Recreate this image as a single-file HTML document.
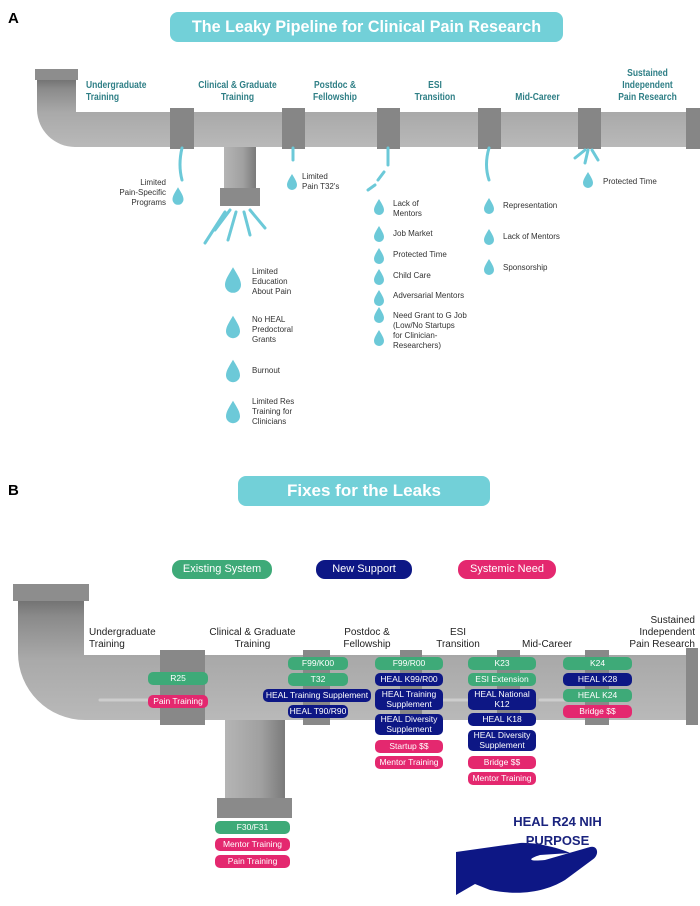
<!DOCTYPE html>
<html><head><meta charset="utf-8"><style>
body{margin:0;width:700px;height:906px;background:#fff;position:relative;overflow:hidden;font-family:"Liberation Sans",sans-serif}
.a{position:absolute}
.t{position:absolute;font-size:10px;line-height:12px;color:#2f7f86;text-align:center;font-weight:bold;transform:scaleX(0.85);}
.d{position:absolute;font-size:8px;line-height:10px;color:#333}
.p{position:absolute;height:13px;line-height:13px;border-radius:5px;color:#fff;font-size:8.5px;text-align:center;white-space:nowrap}
.p2{height:21px;line-height:10px;}
.g{background:#3eaa78}.n{background:#0d1785}.k{background:#e4286f}
.lb{position:absolute;font-size:10px;line-height:12px;color:#222;text-align:center}
</style></head><body>
<svg class="a" style="left:0;top:0" width="700" height="906">
<defs>
<linearGradient id="pg" x1="0" y1="0" x2="0" y2="1"><stop offset="0" stop-color="#6f6f6f"/><stop offset="0.15" stop-color="#8a8a8a"/><stop offset="0.5" stop-color="#a9a9a9"/><stop offset="1" stop-color="#b9b9b9"/></linearGradient>
<linearGradient id="vg" x1="0" y1="0" x2="1" y2="0"><stop offset="0" stop-color="#b5b5b5"/><stop offset="0.6" stop-color="#a0a0a0"/><stop offset="1" stop-color="#7a7a7a"/></linearGradient>
<path id="drop" d="M0,-8 C3,-3 5,0 5,3 A5,5 0 0 1 -5,3 C-5,0 -3,-3 0,-8Z" fill="#6cc9d8"/>
</defs>
<rect x="170" y="12" width="393" height="30" rx="8" fill="#72d0d8"/>
<path d="M37,78 L76,78 L76,112 L700,112 L700,147 L75,147 A38,38 0 0 1 37,110 Z" fill="url(#pg)"/>
<rect x="35" y="69" width="43" height="11" fill="#8d8d8d"/>
<g fill="#868686">
<rect x="170" y="108" width="24" height="41"/><rect x="282" y="108" width="23" height="41"/><rect x="377" y="108" width="23" height="41"/><rect x="478" y="108" width="23" height="41"/><rect x="578" y="108" width="23" height="41"/><rect x="686" y="108" width="14" height="41"/></g>
<rect x="224" y="147" width="32" height="50" fill="url(#vg)"/>
<rect x="220" y="188" width="40" height="18" fill="#8a8a8a"/>
<g stroke="#6cc9d8" stroke-width="3" fill="none" stroke-linecap="round">
<path d="M182,148 Q178,165 182,180"/><path d="M293,148 L293,160"/>
<path d="M388,148 L388,165"/><path d="M384,172 L378,180"/><path d="M375,185 L368,190"/>
<path d="M489,148 Q484,165 489,180"/>
<path d="M585,150 L575,158"/><path d="M588,150 L585,163"/><path d="M592,150 L598,160"/>
<path d="M230,210 L215,230"/><path d="M236,212 L228,240"/><path d="M244,212 L250,235"/><path d="M250,210 L265,228"/><path d="M225,212 L205,243"/>
</g>
<use href="#drop" transform="translate(178,196) scale(1.1)"/>
<use href="#drop" transform="translate(292,182)"/>
<use href="#drop" transform="translate(588,180)"/>
<use href="#drop" transform="translate(233,280) scale(1.6)"/>
<use href="#drop" transform="translate(233,327) scale(1.4)"/>
<use href="#drop" transform="translate(233,371) scale(1.4)"/>
<use href="#drop" transform="translate(233,412) scale(1.4)"/>
<use href="#drop" transform="translate(379,207)"/><use href="#drop" transform="translate(379,234)"/><use href="#drop" transform="translate(379,256)"/><use href="#drop" transform="translate(379,277)"/><use href="#drop" transform="translate(379,298)"/><use href="#drop" transform="translate(379,315)"/><use href="#drop" transform="translate(379,338)"/>
<use href="#drop" transform="translate(489,206)"/><use href="#drop" transform="translate(489,237)"/><use href="#drop" transform="translate(489,267)"/>
<rect x="238" y="476" width="252" height="30" rx="8" fill="#72d0d8"/>
<path d="M18,598 L84,598 L84,655 L695,655 L695,720 L85,720 A67,67 0 0 1 18,653 Z" fill="url(#pg)"/>
<rect x="13" y="584" width="76" height="17" fill="#8d8d8d"/>
<g fill="#888">
<rect x="160" y="650" width="45" height="75"/><rect x="303" y="650" width="27" height="75"/><rect x="400" y="650" width="22" height="75"/><rect x="497" y="650" width="23" height="75"/><rect x="585" y="650" width="24" height="75"/><rect x="686" y="648" width="12" height="77"/></g>
<rect x="225" y="720" width="60" height="82" fill="url(#vg)"/>
<rect x="217" y="798" width="75" height="20" fill="#8a8a8a"/>
<g stroke="#d8d8d8" stroke-width="3" stroke-linecap="round" opacity="0.7"><line x1="100" y1="700" x2="150" y2="700"/><line x1="440" y1="700" x2="480" y2="700"/><line x1="540" y1="700" x2="570" y2="700"/></g>
<path d="M456,852 L520,843 C535,842 560,848 570,853 L540,855 C530,858 525,862 545,860 L590,847 C598,845 600,855 592,860 L565,880 C545,892 520,896 490,890 L475,884 L456,895 Z" fill="#0d1785"/>
</svg>
<div class="a" style="left:8px;top:10px;font-weight:bold;font-size:15px">A</div>
<div class="a" style="left:170px;top:12px;width:393px;line-height:30px;text-align:center;color:#fff;font-weight:bold;font-size:17px;transform:scaleX(0.95)">The Leaky Pipeline for Clinical Pain Research</div>
<div class="t" style="left:80px;top:80px;width:80px;text-align:left">Undergraduate<br>Training</div>
<div class="t" style="left:180px;top:80px;width:115px">Clinical &amp; Graduate<br>Training</div>
<div class="t" style="left:300px;top:80px;width:70px">Postdoc &amp;<br>Fellowship</div>
<div class="t" style="left:400px;top:80px;width:70px">ESI<br>Transition</div>
<div class="t" style="left:500px;top:92px;width:75px">Mid-Career</div>
<div class="t" style="left:600px;top:68px;width:95px">Sustained<br>Independent<br>Pain Research</div>
<div class="d" style="left:96px;top:178px;width:70px;text-align:right">Limited<br>Pain-Specific<br>Programs</div>
<div class="d" style="left:302px;top:172px">Limited<br>Pain T32's</div>
<div class="d" style="left:603px;top:177px">Protected Time</div>
<div class="d" style="left:252px;top:267px">Limited<br>Education<br>About Pain</div>
<div class="d" style="left:252px;top:315px">No HEAL<br>Predoctoral<br>Grants</div>
<div class="d" style="left:252px;top:366px">Burnout</div>
<div class="d" style="left:252px;top:397px">Limited Res<br>Training for<br>Clinicians</div>
<div class="d" style="left:393px;top:199px">Lack of<br>Mentors</div>
<div class="d" style="left:393px;top:229px">Job Market</div>
<div class="d" style="left:393px;top:250px">Protected Time</div>
<div class="d" style="left:393px;top:271px">Child Care</div>
<div class="d" style="left:393px;top:291px">Adversarial Mentors</div>
<div class="d" style="left:393px;top:311px">Need Grant to G Job<br>(Low/No Startups<br>for Clinician-<br>Researchers)</div>
<div class="d" style="left:503px;top:201px">Representation</div>
<div class="d" style="left:503px;top:232px">Lack of Mentors</div>
<div class="d" style="left:503px;top:263px">Sponsorship</div>

<div class="a" style="left:8px;top:482px;font-weight:bold;font-size:15px">B</div>
<div class="a" style="left:238px;top:476px;width:252px;line-height:30px;text-align:center;color:#fff;font-weight:bold;font-size:17px">Fixes for the Leaks</div>
<div class="p g" style="left:172px;top:560px;width:100px;height:19px;line-height:19px;border-radius:9px;font-size:11px">Existing System</div>
<div class="p n" style="left:316px;top:560px;width:96px;height:19px;line-height:19px;border-radius:9px;font-size:11px">New Support</div>
<div class="p k" style="left:458px;top:560px;width:98px;height:19px;line-height:19px;border-radius:9px;font-size:11px">Systemic Need</div>

<div class="lb" style="left:89px;top:627px;text-align:left">Undergraduate<br>Training</div>
<div class="lb" style="left:195px;top:627px;width:115px">Clinical &amp; Graduate<br>Training</div>
<div class="lb" style="left:332px;top:627px;width:70px">Postdoc &amp;<br>Fellowship</div>
<div class="lb" style="left:423px;top:627px;width:70px">ESI<br>Transition</div>
<div class="lb" style="left:522px;top:639px">Mid-Career</div>
<div class="lb" style="left:610px;top:615px;width:85px;text-align:right">Sustained<br>Independent<br>Pain Research</div>

<div class="p g" style="left:148px;top:672px;width:60px">R25</div>
<div class="p k" style="left:148px;top:695px;width:60px">Pain Training</div>
<div class="p g" style="left:288px;top:657px;width:60px">F99/K00</div>
<div class="p g" style="left:288px;top:673px;width:60px">T32</div>
<div class="p n" style="left:263px;top:689px;width:108px">HEAL Training Supplement</div>
<div class="p n" style="left:288px;top:705px;width:60px">HEAL T90/R90</div>
<div class="p g" style="left:375px;top:657px;width:68px">F99/R00</div>
<div class="p n" style="left:375px;top:673px;width:68px">HEAL K99/R00</div>
<div class="p n p2" style="left:375px;top:689px;width:68px">HEAL Training<br>Supplement</div>
<div class="p n p2" style="left:375px;top:714px;width:68px">HEAL Diversity<br>Supplement</div>
<div class="p k" style="left:375px;top:740px;width:68px">Startup $$</div>
<div class="p k" style="left:375px;top:756px;width:68px">Mentor Training</div>
<div class="p g" style="left:468px;top:657px;width:68px">K23</div>
<div class="p g" style="left:468px;top:673px;width:68px">ESI Extension</div>
<div class="p n p2" style="left:468px;top:689px;width:68px">HEAL National<br>K12</div>
<div class="p n" style="left:468px;top:713px;width:68px">HEAL K18</div>
<div class="p n p2" style="left:468px;top:730px;width:68px">HEAL Diversity<br>Supplement</div>
<div class="p k" style="left:468px;top:756px;width:68px">Bridge $$</div>
<div class="p k" style="left:468px;top:772px;width:68px">Mentor Training</div>
<div class="p g" style="left:563px;top:657px;width:69px">K24</div>
<div class="p n" style="left:563px;top:673px;width:69px">HEAL K28</div>
<div class="p g" style="left:563px;top:689px;width:69px">HEAL K24</div>
<div class="p k" style="left:563px;top:705px;width:69px">Bridge $$</div>
<div class="p g" style="left:215px;top:821px;width:75px">F30/F31</div>
<div class="p k" style="left:215px;top:838px;width:75px">Mentor Training</div>
<div class="p k" style="left:215px;top:855px;width:75px">Pain Training</div>
<div class="a" style="left:490px;top:812px;width:135px;text-align:center;color:#1a237e;font-weight:bold;font-size:13px;line-height:19px">HEAL R24 NIH<br>PURPOSE</div>
</body></html>
